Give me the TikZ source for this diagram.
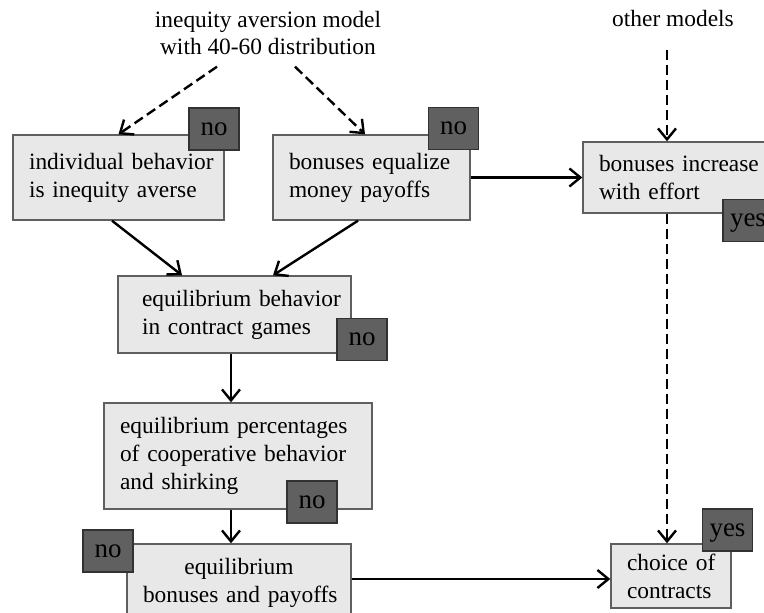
\documentclass[tikz,border=0pt]{standalone}
\usepackage{fontspec}
\setmainfont{Liberation Serif}
\usetikzlibrary{arrows.meta,calc}
\definecolor{boxfill}{RGB}{232,232,232}
\definecolor{boxline}{RGB}{95,95,95}
\definecolor{badgefill}{RGB}{96,96,96}
\definecolor{badgeline}{RGB}{50,50,50}
\begin{document}
\begin{tikzpicture}[x=1pt,y=-1pt,
  box/.style={draw=boxline, fill=boxfill, line width=1.4pt, rectangle, align=left,
    font=\fontsize{23.4}{28}\selectfont, inner ysep=0pt, inner xsep=16pt},
  badge/.style={draw=badgeline, fill=badgefill, line width=1.4pt, minimum width=50pt,
    minimum height=42pt, inner sep=0pt, text depth=0pt, font=\fontsize{27}{30}\selectfont},
  conn/.style={line width=2.4pt, -{Straight Barb[length=11pt,width=18pt,line width=2.4pt]}},
  dconn/.style={conn, dash pattern=on 10pt off 5pt},
  lab/.style={inner sep=0pt, align=center}]
\useasboundingbox (0,0) rectangle (764,613);
\clip (0,0) rectangle (764,613);

% top labels
\node[lab, font=\fontsize{23.4}{26.5}\selectfont] (title) at (268,33)
  {inequity aversion model\\with 40-60 distribution};
\node[lab, anchor=base, font=\fontsize{23.4}{28}\selectfont] (other) at (673,27) {other models};

% boxes
\node[box, minimum width=211pt, minimum height=85pt, text width=179pt] (b1) at (118.5,177.5)
  {\mbox{individual behavior}\\\mbox{is inequity averse}};
\node[box, minimum width=197pt, minimum height=85pt, text width=165pt] (b2) at (371.5,177.5)
  {\mbox{bonuses equalize}\\\mbox{money payoffs}};
\node[box, minimum width=192pt, minimum height=71pt, text width=160pt] (b3) at (679,177.5)
  {\mbox{bonuses increase}\\\mbox{with effort}};
\node[box, inner xsep=24pt, minimum width=233pt, minimum height=77pt, text width=185pt] (b4) at (234.5,314.5)
  {\mbox{equilibrium behavior}\\\mbox{in contract games}};
\node[box, minimum width=268pt, minimum height=106pt, text width=236pt] (b5) at (238,456)
  {\mbox{equilibrium percentages}\\\mbox{of cooperative behavior}\\\mbox{and shirking}};
\node[box, align=center, minimum width=224pt, minimum height=78pt, text width=192pt] (b6) at (239,583)
  {\mbox{equilibrium}\\\mbox{bonuses and payoffs}};
\node[box, minimum width=120pt, minimum height=64pt, text width=88pt] (b7) at (671,576)
  {\mbox{choice of}\\\mbox{contracts}};

% badges
\node[badge] (n1) at (214,129) {no};
\node[badge] (n2) at (453.5,128.5) {no};
\node[badge] (y3) at (748,220.5) {yes};
\node[badge] (n4) at (362,339.5) {no};
\node[badge] (n5) at (312,502) {no};
\node[badge] (n6) at (108,551) {no};
\node[badge] (y7) at (727.5,530) {yes};

% connectors
\draw[dconn] ([xshift=-51pt,yshift=-12pt]title.south) -- (b1.north);
\draw[dconn] ([xshift=27pt,yshift=-12pt]title.south) -- ([xshift=-6.5pt]b2.north);
\draw[dconn] ([xshift=-6pt,yshift=-23pt]other.south) -- ([xshift=-12pt]b3.north);
\draw[dconn] ([xshift=-12pt]b3.south) -- ([xshift=-12pt]b3.south |- b7.north);
\draw[conn] (b2.east) -- (b3.west);
\draw[conn] ([xshift=-6.5pt]b1.south) -- ([xshift=-52.5pt]b4.north);
\draw[conn] ([xshift=-13.5pt]b2.south) -- ([xshift=38.5pt]b4.north);
\draw[conn] ([xshift=-3.5pt]b4.south) -- ([xshift=-3.5pt]b4.south |- b5.north);
\draw[conn] ([xshift=-7pt]b5.south) -- ([xshift=-7pt]b5.south |- b6.north);
\draw[conn] ([yshift=4pt]b6.east) -- ([yshift=4pt]b6.east -| b7.west);
\end{tikzpicture}
\end{document}
